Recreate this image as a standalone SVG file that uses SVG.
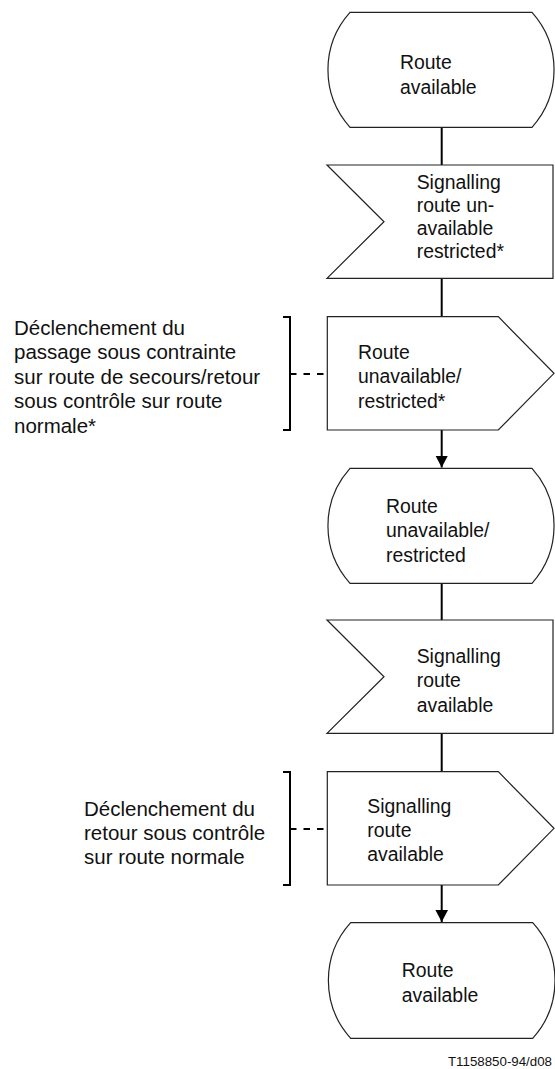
<svg xmlns="http://www.w3.org/2000/svg" width="555" height="1069" viewBox="0 0 555 1069">
<style>
.shape{fill:#fff;stroke:#222;stroke-width:1.2;stroke-linejoin:miter}
.conn{stroke:#000;stroke-width:2;fill:none}
.dash{stroke:#000;stroke-width:2;fill:none;stroke-dasharray:6.5 7}
.brk{stroke:#000;stroke-width:2;fill:none}
.t{font-family:"Liberation Sans",Arial,sans-serif;font-size:19.4px;fill:#111}
.c{font-family:"Liberation Sans",Arial,sans-serif;font-size:20.5px;fill:#111}
.lbl{font-family:"Liberation Sans",Arial,sans-serif;font-size:13.3px;fill:#111}
</style>
<defs>
<marker id="arr" markerUnits="userSpaceOnUse" markerWidth="13" markerHeight="13" refX="12" refY="6.3" orient="auto">
<path d="M0,0 L12,6.3 L0,12.6 Z" fill="#000"/>
</marker>
</defs>
<rect width="555" height="1069" fill="#fff"/>
<g id="connectors">
<line class="conn" x1="441.7" y1="127.3" x2="441.7" y2="165"/>
<line class="conn" x1="441.7" y1="278.3" x2="441.7" y2="316.7"/>
<line class="conn" x1="441.7" y1="430" x2="441.7" y2="467.5" marker-end="url(#arr)"/>
<line class="conn" x1="441.7" y1="583.3" x2="441.7" y2="620"/>
<line class="conn" x1="441.7" y1="733.3" x2="441.7" y2="771.7"/>
<line class="conn" x1="441.7" y1="885" x2="441.7" y2="922" marker-end="url(#arr)"/>
<path class="brk" d="M283,317 H290 V430 H283"/>
<line class="dash" x1="290" y1="374" x2="327" y2="374"/>
<path class="brk" d="M283,772 H290 V885 H283"/>
<line class="dash" x1="290" y1="829" x2="327" y2="829"/>
</g>
<g id="state1">
<path class="shape" d="M350,12.3 H532 A86 86 0 0 1 532,127.3 H350 A86 86 0 0 1 350,12.3 Z"/>
<text class="t" x="400" y="69.3">Route</text>
<text class="t" x="400" y="94">available</text>
</g>
<g id="input1">
<polygon class="shape" points="327,165 553,165 553,278.3 327,278.3 384,221.7"/>
<text class="t" x="416.7" y="189.3">Signalling</text>
<text class="t" x="416.7" y="212">route un-</text>
<text class="t" x="416.7" y="235">available</text>
<text class="t" x="416.7" y="257.5">restricted*</text>
</g>
<g id="output1">
<polygon class="shape" points="327.3,316.7 498.3,316.7 554,373.3 498.3,430 327.3,430"/>
<text class="t" x="358" y="358.5">Route</text>
<text class="t" x="358" y="383">unavailable/</text>
<text class="t" x="358" y="407.5">restricted*</text>
</g>
<g id="comment1">
<text class="c" x="14" y="335">Déclenchement du</text>
<text class="c" x="14" y="359.4">passage sous contrainte</text>
<text class="c" x="14" y="383.8">sur route de secours/retour</text>
<text class="c" x="14" y="408.2">sous contrôle sur route</text>
<text class="c" x="14" y="432.6">normale*</text>
</g>
<g id="state2">
<path class="shape" d="M350,468.3 H532 A86 86 0 0 1 532,583.3 H350 A86 86 0 0 1 350,468.3 Z"/>
<text class="t" x="386" y="513.3">Route</text>
<text class="t" x="386" y="537.3">unavailable/</text>
<text class="t" x="386" y="561.7">restricted</text>
</g>
<g id="input2">
<polygon class="shape" points="327,620 553,620 553,733.3 327,733.3 384,676.7"/>
<text class="t" x="416.7" y="663.3">Signalling</text>
<text class="t" x="416.7" y="687.3">route</text>
<text class="t" x="416.7" y="711.5">available</text>
</g>
<g id="output2">
<polygon class="shape" points="327.3,771.7 498.3,771.7 554,828.3 498.3,885 327.3,885"/>
<text class="t" x="367.3" y="812.7">Signalling</text>
<text class="t" x="367.3" y="836.7">route</text>
<text class="t" x="367.3" y="861">available</text>
</g>
<g id="comment2">
<text class="c" x="84" y="816">Déclenchement du</text>
<text class="c" x="84" y="840">retour sous contrôle</text>
<text class="c" x="84" y="864">sur route normale</text>
</g>
<g id="state3">
<path class="shape" d="M350.7,922.7 H532.7 A86 86 0 0 1 532.7,1038.3 H350.7 A86 86 0 0 1 350.7,922.7 Z"/>
<text class="t" x="401.7" y="977.3">Route</text>
<text class="t" x="401.7" y="1002.3">available</text>
</g>
<text class="lbl" x="448" y="1066">T1158850-94/d08</text>
</svg>
